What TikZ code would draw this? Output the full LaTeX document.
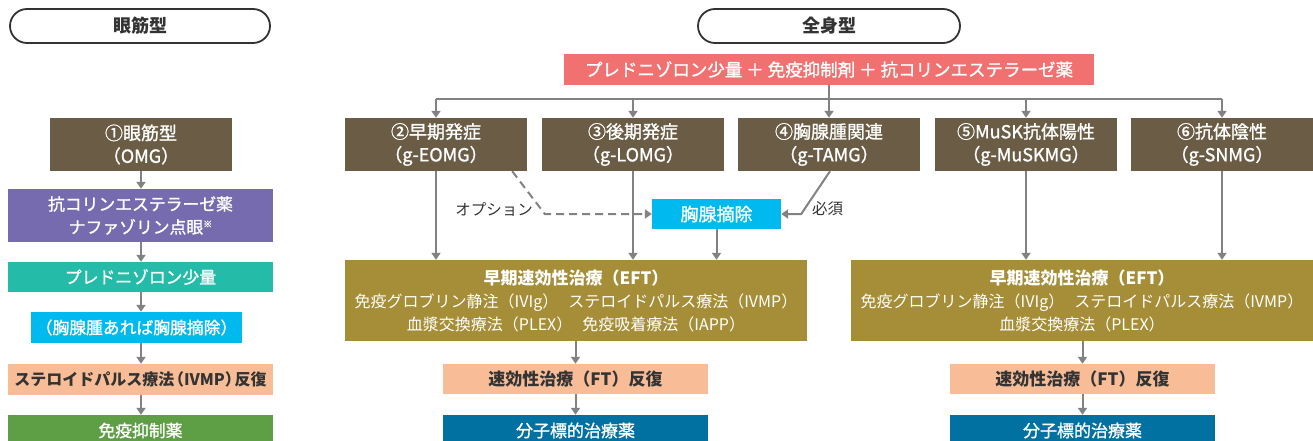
\documentclass[tikz,border=0pt]{standalone}
\usepackage{fontspec}
\setmainfont{Noto Sans CJK JP}
\newfontfamily\med[FakeBold=1.2]{Noto Sans CJK JP}
\usetikzlibrary{arrows.meta,shapes.misc}
\definecolor{cbrown}{HTML}{6B5C45}
\definecolor{cpurp}{HTML}{776BB0}
\definecolor{cteal}{HTML}{25BBA9}
\definecolor{ccyan}{HTML}{00BAEF}
\definecolor{cpeach}{HTML}{F8BD97}
\definecolor{cgreen}{HTML}{5E9E45}
\definecolor{cpink}{HTML}{F07170}
\definecolor{colive}{HTML}{A58E37}
\definecolor{cblue}{HTML}{0071A0}
\definecolor{carrow}{HTML}{828284}
\definecolor{ctext}{HTML}{333333}
\tikzset{
  box/.style={inner sep=0pt, align=center, text=white, font=\fontsize{16.8}{23}\selectfont\med},
  hdr/.style={box, fill=cbrown, minimum width=182pt, minimum height=53pt, font=\fontsize{18}{23}\selectfont\med},
  pill/.style={rounded rectangle, draw=ctext, line width=1.8pt, minimum width=260pt, minimum height=34pt, inner sep=0pt, text=ctext, font=\fontsize{18}{20}\selectfont\bfseries},
  eft/.style={box, fill=colive, minimum width=462pt, minimum height=81pt, font=\fontsize{16}{23}\selectfont},
  ftbox/.style={box, fill=cpeach, text=ctext, minimum width=265pt, minimum height=30pt, font=\fontsize{17}{20}\selectfont\bfseries},
  molbox/.style={box, fill=cblue, minimum width=265pt, minimum height=31pt, font=\fontsize{17}{20}\selectfont\med},
  lbl/.style={inner sep=0pt, text=ctext, font=\fontsize{15.5}{18}\selectfont},
  line/.style={draw=carrow, line width=2pt},
  arr/.style={line, -{Triangle[width=9pt,length=7pt]}},
}
\begin{document}
\begin{tikzpicture}[x=1pt,y=-1pt]
\useasboundingbox (0,0) rectangle (1313,441);
% headers
\node[pill] (hl) at (140,26) {眼筋型};
\node[pill, minimum width=262pt] (hr) at (829,26) {全身型};
% left column
\node[hdr] (omg) at (141,144.5) {①眼筋型\\（OMG）};
\node[box, fill=cpurp, minimum width=265pt, minimum height=53pt] (ache) at (140.5,215.5) {抗コリンエステラーゼ薬\\ナファゾリン点眼{\fontsize{9}{9}\selectfont\raisebox{6pt}{※}}};
\node[box, fill=cteal, minimum width=265pt, minimum height=30pt] (pred) at (140.5,277) {プレドニゾロン少量};
\node[box, fill=ccyan, minimum width=211pt, minimum height=31pt] (thyl) at (136.5,327.5) {（胸腺腫あれば胸腺摘除）};
\node[box, fill=cpeach, text=ctext, minimum width=265pt, minimum height=31pt, font=\fontsize{16}{20}\selectfont\bfseries] (ivmp) at (140.5,379.5) {ステロイドパルス療法\hspace{-0.4em}（IVMP）\hspace{-0.4em}反復};
\node[box, fill=cgreen, minimum width=265pt, minimum height=31pt] (imm) at (140.5,430.5) {免疫抑制薬};
\draw[arr] (omg.south) -- (omg.south |- ache.north);
\draw[arr] (omg.south |- ache.south) -- (omg.south |- pred.north);
\draw[arr] (omg.south |- pred.south) -- (omg.south |- thyl.north);
\draw[arr] (omg.south |- thyl.south) -- (omg.south |- ivmp.north);
\draw[arr] (omg.south |- ivmp.south) -- (omg.south |- imm.north);
% generalized
\node[box, fill=cpink, minimum width=530pt, minimum height=31pt, font=\fontsize{17.5}{20}\selectfont\med] (pink) at (829,69.5) {プレドニゾロン少量 ＋ 免疫抑制剤 ＋ 抗コリンエステラーゼ薬};
\node[hdr] (b2) at (436,144.5) {②早期発症\\（g-EOMG）};
\node[hdr] (b3) at (633,144.5) {③後期発症\\（g-LOMG）};
\node[hdr] (b4) at (829,144.5) {④胸腺腫関連\\（g-TAMG）};
\node[hdr] (b5) at (1026,144.5) {⑤MuSK抗体陽性\\（g-MuSKMG）};
\node[hdr] (b6) at (1222,144.5) {⑥抗体陰性\\（g-SNMG）};
\coordinate (bus) at (829,99);
\draw[line] (pink.south) -- (bus);
\draw[line] (b2.north |- bus) -- (b6.north |- bus);
\foreach \b in {b2,b3,b4,b5,b6} \draw[arr] (\b.north |- bus) -- (\b.north);
% thymectomy
\node[box, fill=ccyan, minimum width=129pt, minimum height=30pt, font=\fontsize{18}{20}\selectfont\med] (thy) at (716.5,214) {胸腺摘除};
\node[lbl, anchor=east] (opt) at (533,209) {オプション};
\node[lbl, anchor=west] (req) at (812,209) {必須};
\draw[arr, dash pattern=on 8pt off 5pt] ([xshift=-15pt]b2.south east) -- ([xshift=-107pt]thy.west) -- (thy.west);
\draw[arr] ([xshift=1pt]b4.south) -- ([xshift=20pt]thy.east) -- (thy.east);
% EFT left
\node[eft] (eft1) at (576,300.5) {{\fontsize{17}{23}\selectfont\bfseries 早期速効性治療（EFT）}\\免疫グロブリン静注（IVIg）\hspace{10pt}ステロイドパルス療法（IVMP）\\血漿交換療法（PLEX）\hspace{10pt}免疫吸着療法（IAPP）};
\draw[arr] (b2.south) -- (b2.south |- eft1.north);
\draw[arr] (b3.south) -- (b3.south |- eft1.north);
\draw[arr] (thy.south) -- (thy.south |- eft1.north);
\node[ftbox] (ft1) at (575.5,379) {速効性治療（FT）反復};
\node[molbox] (mol1) at (575.5,430.5) {分子標的治療薬};
\draw[arr] (eft1.south -| ft1.north) -- (ft1.north);
\draw[arr] (ft1.south) -- (mol1.north);
% EFT right
\node[eft] (eft2) at (1082,300.5) {{\fontsize{17}{23}\selectfont\bfseries 早期速効性治療（EFT）}\\免疫グロブリン静注（IVIg）\hspace{10pt}ステロイドパルス療法（IVMP）\\血漿交換療法（PLEX）};
\draw[arr] (b5.south) -- (b5.south |- eft2.north);
\draw[arr] (b6.south) -- (b6.south |- eft2.north);
\node[ftbox] (ft2) at (1082.5,379) {速効性治療（FT）反復};
\node[molbox] (mol2) at (1082.5,430.5) {分子標的治療薬};
\draw[arr] (eft2.south -| ft2.north) -- (ft2.north);
\draw[arr] (ft2.south) -- (mol2.north);
\end{tikzpicture}
\end{document}
